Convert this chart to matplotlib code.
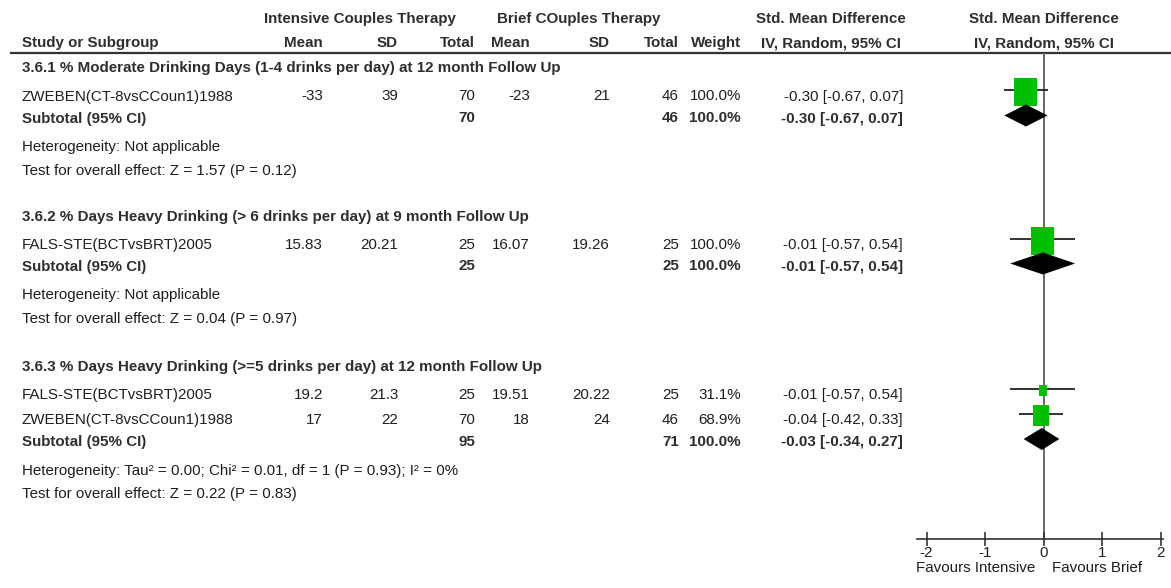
import matplotlib
matplotlib.use("Agg")
import matplotlib.pyplot as plt
from matplotlib.patches import Rectangle, Polygon

plt.rcParams['font.family'] = ['Liberation Sans', 'DejaVu Sans']

# ---------------- data ----------------
subgroups = [
    "3.6.1 % Moderate Drinking Days (1-4 drinks per day) at 12 month Follow Up",
    "3.6.2 % Days Heavy Drinking (> 6 drinks per day) at 9 month Follow Up",
    "3.6.3 % Days Heavy Drinking (>=5 drinks per day) at 12 month Follow Up",
]
study_group = [0, 1, 2, 2]
study_names = ["ZWEBEN(CT-8vsCCoun1)1988", "FALS-STE(BCTvsBRT)2005",
               "FALS-STE(BCTvsBRT)2005", "ZWEBEN(CT-8vsCCoun1)1988"]
int_mean = ["-33", "15.83", "19.2", "17"]
int_sd = ["39", "20.21", "21.3", "22"]
int_n = [70, 25, 25, 70]
brf_mean = ["-23", "16.07", "19.51", "18"]
brf_sd = ["21", "19.26", "20.22", "24"]
brf_n = [46, 25, 25, 46]
weights = [100.0, 100.0, 31.1, 68.9]
smd = [-0.30, -0.01, -0.01, -0.04]
ci_lo = [-0.67, -0.57, -0.57, -0.42]
ci_hi = [0.07, 0.54, 0.54, 0.33]

sub_int_n = [70, 25, 95]
sub_brf_n = [46, 25, 71]
sub_smd = [-0.30, -0.01, -0.03]
sub_lo = [-0.67, -0.57, -0.34]
sub_hi = [0.07, 0.54, 0.27]
heterogeneity = ["Heterogeneity: Not applicable",
                 "Heterogeneity: Not applicable",
                 "Heterogeneity: Tau² = 0.00; Chi² = 0.01, df = 1 (P = 0.93); I² = 0%"]
overall = ["Test for overall effect: Z = 1.57 (P = 0.12)",
           "Test for overall effect: Z = 0.04 (P = 0.97)",
           "Test for overall effect: Z = 0.22 (P = 0.83)"]

xticks = [-2, -1, 0, 1, 2]
xlabel_left = "Favours Intensive"
xlabel_right = "Favours Brief"

# ---------------- layout ----------------
W, H = 1171, 588
fig = plt.figure(figsize=(W / 100, H / 100), dpi=100)
ax = fig.add_axes([0, 0, 1, 1])
ax.set_xlim(0, W)
ax.set_ylim(H, 0)
ax.axis('off')

FS = 10.9
TXT = '#1e1e1e'
HDR = '#2e2e2e'
GREEN = '#00bf00'

LEFT = 22
col = dict(m1=323, sd1=398, n1=475, m2=530, sd2=610, n2=679, w=741, ci=903)
ci_hdr_center = 831
fp_hdr_center = 1044

# header
y_h1, y_h2, y_line = 19, 43, 53
bold = dict(fontsize=FS, fontweight='bold', color=HDR, va='center')
ax.text(360, y_h1, "Intensive Couples Therapy", ha='center', **bold)
ax.text(579, y_h1, "Brief COuples Therapy", ha='center', **bold)
ax.text(ci_hdr_center, y_h1, "Std. Mean Difference", ha='center', **bold)
ax.text(fp_hdr_center, y_h1, "Std. Mean Difference", ha='center', **bold)
ax.text(LEFT, y_h2, "Study or Subgroup", ha='left', **bold)
for key, lab in [('m1', 'Mean'), ('sd1', 'SD'), ('n1', 'Total'), ('m2', 'Mean'),
                 ('sd2', 'SD'), ('n2', 'Total'), ('w', 'Weight')]:
    ax.text(col[key], y_h2, lab, ha='right', **bold)
ax.text(ci_hdr_center, y_h2, "IV, Random, 95% CI", ha='center', **bold)
ax.text(fp_hdr_center, y_h2, "IV, Random, 95% CI", ha='center', **bold)
ax.plot([10, W], [y_line, y_line], color='#333333', lw=1.6, solid_capstyle='butt')

# row positions (layout)
group_title_y = [68, 216.5, 366.5]
study_rows_y = [[96.5], [245], [395, 420]]
subtotal_y = [118.5, 266.5, 442]
HET_GAP, TEST_GAP = 29, 23

# forest axes
x0_px, px_per_unit = 1043.5, 58.5
xl, xr = -2.16, 2.04
y_axis = 538.5
fax = fig.add_axes([(x0_px + xl * px_per_unit) / W, (H - y_axis) / H,
                    (xr - xl) * px_per_unit / W, (y_axis - y_line) / H])
fax.set_xlim(xl, xr)
fax.set_ylim(y_axis, y_line)
fax.patch.set_alpha(0)
for s in ['top', 'left', 'right']:
    fax.spines[s].set_visible(False)
fax.spines['bottom'].set_color('#333333')
fax.spines['bottom'].set_linewidth(1.2)
fax.set_yticks([])
fax.set_xticks(xticks)
fax.set_xticklabels([str(t) for t in xticks])
fax.tick_params(axis='x', direction='inout', length=9.5, width=1.2, color='#333333',
                labelsize=FS, labelcolor=TXT, pad=1)
fax.axvline(0, color='#666666', lw=1.4, zorder=1)
fax.text(-8.5 / px_per_unit, y_axis + 29, xlabel_left, ha='right', va='center',
         fontsize=FS, color=TXT, clip_on=False)
fax.text(8.5 / px_per_unit, y_axis + 29, xlabel_right, ha='left', va='center',
         fontsize=FS, color=TXT, clip_on=False)


def fmt_ci(e, lo, hi):
    return f"{e:.2f} [{lo:.2f}, {hi:.2f}]"


reg = dict(fontsize=FS, color=TXT, va='center')
for g in range(len(subgroups)):
    ax.text(LEFT, group_title_y[g], subgroups[g], ha='left', **bold)
    idx = [i for i, sg in enumerate(study_group) if sg == g]
    for i, y in zip(idx, study_rows_y[g]):
        ax.text(LEFT, y, study_names[i], ha='left', **reg)
        ax.text(col['m1'], y, int_mean[i], ha='right', **reg)
        ax.text(col['sd1'], y, int_sd[i], ha='right', **reg)
        ax.text(col['n1'], y, str(int_n[i]), ha='right', **reg)
        ax.text(col['m2'], y, brf_mean[i], ha='right', **reg)
        ax.text(col['sd2'], y, brf_sd[i], ha='right', **reg)
        ax.text(col['n2'], y, str(brf_n[i]), ha='right', **reg)
        ax.text(col['w'], y, f"{weights[i]:.1f}%", ha='right', **reg)
        ax.text(col['ci'], y, fmt_ci(smd[i], ci_lo[i], ci_hi[i]), ha='right', **reg)
        # forest marks
        yc = y - 6.5
        fax.plot([ci_lo[i], ci_hi[i]], [yc, yc], color='#222222', lw=1.3, zorder=2,
                 solid_capstyle='butt')
        wpx = 1.7 + 21.3 * weights[i] / 100
        hpx = 3.3 + 24.7 * weights[i] / 100
        fax.add_patch(Rectangle((smd[i] - wpx / 2 / px_per_unit, yc + 2 - hpx / 2),
                                wpx / px_per_unit, hpx, facecolor=GREEN, edgecolor='none', zorder=3))
    y = subtotal_y[g]
    ax.text(LEFT, y, "Subtotal (95% CI)", ha='left', **bold)
    ax.text(col['n1'], y, str(sub_int_n[g]), ha='right', **bold)
    ax.text(col['n2'], y, str(sub_brf_n[g]), ha='right', **bold)
    ax.text(col['w'], y, "100.0%", ha='right', **bold)
    ax.text(col['ci'], y, fmt_ci(sub_smd[g], sub_lo[g], sub_hi[g]), ha='right', **bold)
    yd = y - 3
    fax.add_patch(Polygon([(sub_lo[g], yd), (sub_smd[g], yd - 11), (sub_hi[g], yd), (sub_smd[g], yd + 11)],
                          closed=True, facecolor='black', edgecolor='none', zorder=4))
    ax.text(LEFT, y + HET_GAP, heterogeneity[g], ha='left', **reg)
    ax.text(LEFT, y + HET_GAP + TEST_GAP, overall[g], ha='left', **reg)

fig.savefig("out.png", dpi=100)
